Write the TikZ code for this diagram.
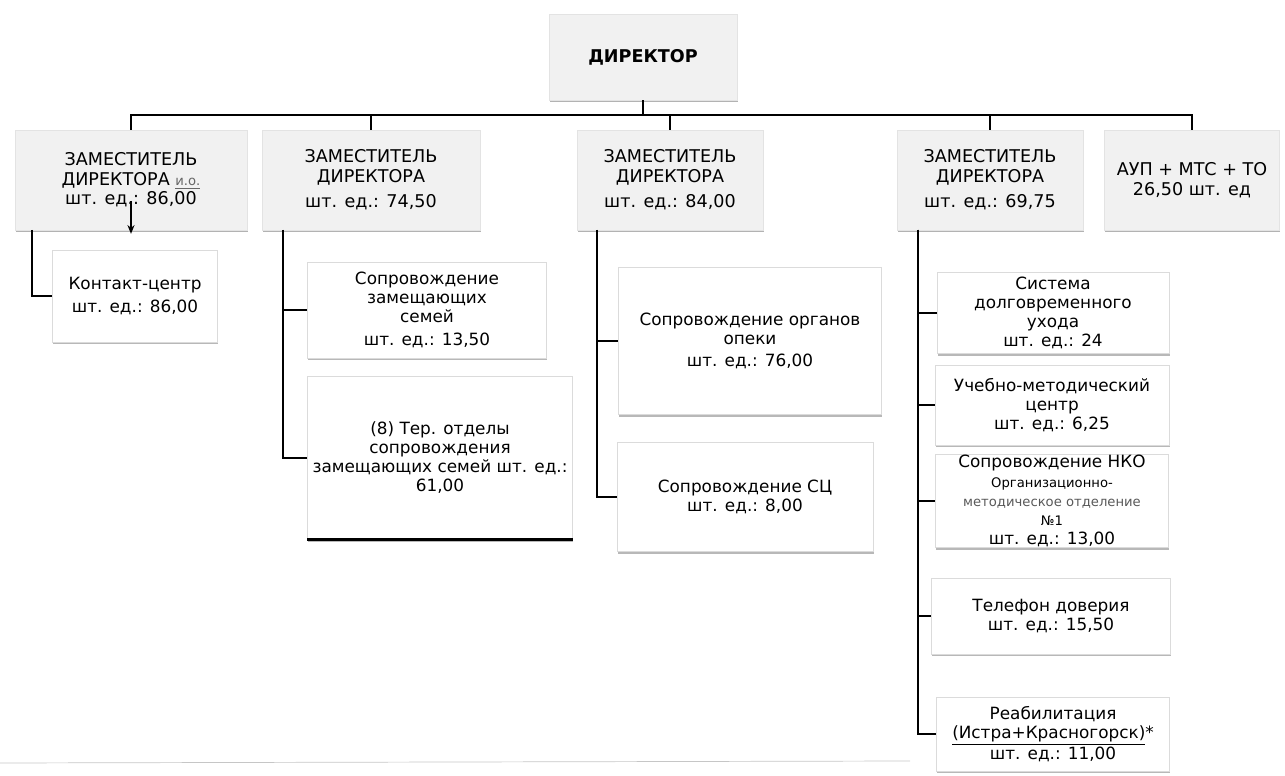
\documentclass[tikz,border=0pt]{standalone}
\usepackage{fontspec}
\setmainfont{DejaVu Sans}
\usetikzlibrary{ positioning, % For easy node-relative placements
                 shadows,     % For the soft shadow under the boxes
                 arrows.meta, % For the arrow tip
               }

\tikzset{
  wh/.style 2 args={minimum width=#1*0.02cm, minimum height=#2*0.02cm},
  topbox/.style={draw=gray!22, fill=gray!11, align=center, inner sep=1pt,
    font=\fontsize{10}{11.2}\selectfont,
    drop shadow={shadow xshift=0.4pt, shadow yshift=-1.3pt, fill=gray!75, opacity=0.8}},
  subbox/.style={draw=gray!28, fill=white, align=center, inner sep=1pt,
    font=\fontsize{9.6}{10.8}\selectfont,
    drop shadow={shadow xshift=0.4pt, shadow yshift=-1.3pt, fill=gray!70, opacity=0.8}},
  link/.style={line width=0.9pt},
}

\begin{document}
\begin{tikzpicture}[x=0.02cm, y=-0.02cm] % pixel grid of the scan
  \useasboundingbox (0,0) rectangle (1285,776);

  \node[topbox, wh={188}{86}, font=\fontsize{10}{11}\selectfont\bfseries] (dir) at (643,57) {ДИРЕКТОР};

  \node[topbox, wh={232}{100}] (depone) at (131,180) {ЗАМЕСТИТЕЛЬ\\ДИРЕКТОРА {\fontsize{7.5}{9}\selectfont\color{gray!80!black}\underline{и.о.}}\\шт. ед.: 86,00};
  \node[topbox, wh={218}{100}] (deptwo) at (371,180) {ЗАМЕСТИТЕЛЬ\\ДИРЕКТОРА\\[3pt]шт. ед.: 74,50};
  \node[topbox, wh={186}{100}] (depthree) at (670,180) {ЗАМЕСТИТЕЛЬ\\ДИРЕКТОРА\\[3pt]шт. ед.: 84,00};
  \node[topbox, wh={186}{100}] (depfour) at (990,180) {ЗАМЕСТИТЕЛЬ\\ДИРЕКТОРА\\[3pt]шт. ед.: 69,75};
  \node[topbox, wh={175}{100}] (aup) at (1192,180) {АУП + МТС + ТО\\26,50 шт. ед};

  \node[subbox, wh={165}{92}] (contact) at (135,296) {Контакт-центр\\[2pt]шт. ед.: 86,00};

  \node[subbox, wh={239}{96}] (zamfam) at (427,310) {Сопровождение\\замещающих\\семей\\[2pt]шт. ед.: 13,50};
  \node[subbox, wh={265}{163}] (terfam) at (440,458) {(8) Тер. отделы\\сопровождения\\замещающих семей шт. ед.:\\61,00};

  \node[subbox, wh={263}{147}] (opeka) at (750,341) {Сопровождение органов\\опеки\\[2pt]шт. ед.: 76,00};
  \node[subbox, wh={256}{109}] (scs) at (745,497) {Сопровождение СЦ\\шт. ед.: 8,00};

  \node[subbox, wh={232}{81}] (ltc) at (1053,313) {Система\\долговременного\\ухода\\шт. ед.: 24};
  \node[subbox, wh={234}{80}] (umc) at (1052,405) {Учебно-методический\\центр\\шт. ед.: 6,25};
  \node[subbox, wh={233}{80}, inner sep=0pt] (nko) at (1052,501) {Сопровождение НКО\\[1pt]{\fontsize{7.5}{8}\selectfont Организационно-}\\{\fontsize{7.5}{8}\selectfont\color{gray!70!black}методическое отделение}\\{\fontsize{7.5}{8}\selectfont №1}\\шт. ед.: 13,00};
  \node[subbox, wh={239}{76}] (hotline) at (1051,616) {Телефон доверия\\шт. ед.: 15,50};
  \node[subbox, wh={233}{74}] (rehab) at (1053,734) {Реабилитация\\\underline{(Истра+Красногорск)}*\\шт. ед.: 11,00};

  % bus from the director
  \coordinate (bus) at (643,115);
  \draw[link] (dir.south) -- (bus);
  \foreach \d in {depone,deptwo,depthree,depfour,aup}
    \draw[link] (bus) -| (\d.north);

  % columns under the deputies
  \coordinate (colone) at (32,230);
  \coordinate (coltwo) at (283,230);
  \coordinate (colthree) at (597,230);
  \coordinate (colfour) at (918,230);
  \draw[link] (colone) |- (contact.west);
  \foreach \s in {zamfam,terfam} \draw[link] (coltwo) |- (\s.west);
  \foreach \s in {opeka,scs} \draw[link] (colthree) |- (\s.west);
  \foreach \s in {ltc,umc,nko,hotline,rehab} \draw[link] (colfour) |- (\s.west);

  \coordinate (arrtop) at (131,201);
  \draw[link, -{Stealth[length=5pt,width=4pt]}] (arrtop) -- ([yshift=-2pt]depone.south);
  \draw[line width=1.6pt] (terfam.south west) -- (terfam.south east);

  \draw[gray!45] (0,763) -- (910,761);
\end{tikzpicture}
\end{document}
